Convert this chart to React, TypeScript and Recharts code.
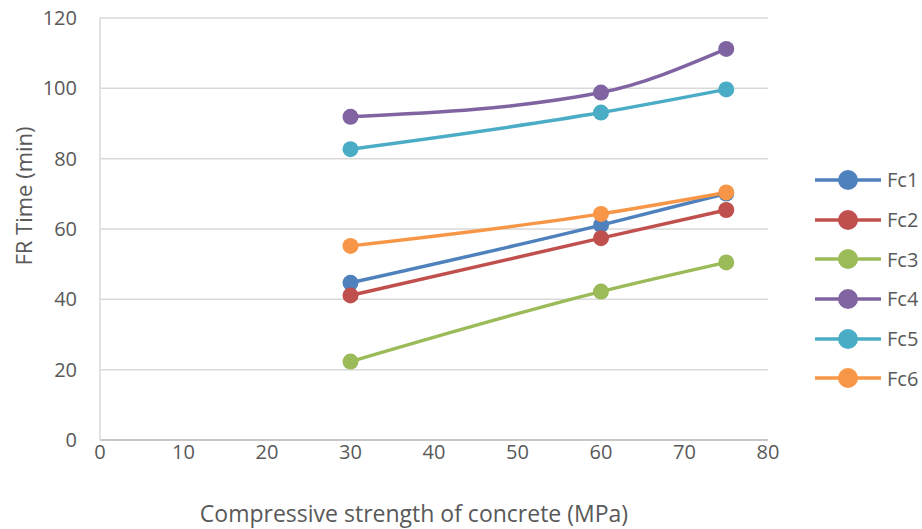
import React from 'react';
import { LineChart, Line, XAxis, YAxis, CartesianGrid } from 'recharts';

// compressive strength (MPa) at which each fire-resistance time was measured
const strengths = [30, 60, 75];

// fire-resistance time (min) per column group
const fc1 = [44.7, 61.1, 70.1];
const fc2 = [41.1, 57.4, 65.4];
const fc3 = [22.3, 42.2, 50.5];
const fc4 = [91.9, 98.8, 111.2];
const fc5 = [82.7, 93.1, 99.7];
const fc6 = [55.2, 64.3, 70.4];

const xTicks = [0, 10, 20, 30, 40, 50, 60, 70, 80];
const yTicks = [0, 20, 40, 60, 80, 100, 120];

const series = [
  { key: 'Fc1', values: fc1, color: '#4F81BD' },
  { key: 'Fc2', values: fc2, color: '#C0504D' },
  { key: 'Fc3', values: fc3, color: '#9BBB59' },
  { key: 'Fc4', values: fc4, color: '#8064A2' },
  { key: 'Fc5', values: fc5, color: '#4BACC6' },
  { key: 'Fc6', values: fc6, color: '#F79646' },
];

const chartData = strengths.map((s, i) => {
  const row: Record<string, number> = { strength: s };
  series.forEach((sr) => {
    row[sr.key] = sr.values[i];
  });
  return row;
});

const FONT = '"Open Sans", "Liberation Sans", sans-serif';
const TEXT = '#595959';

function SideLegend() {
  return (
    <div style={{ position: 'absolute', left: 812, top: 160, fontFamily: FONT }}>
      {series.map((s) => (
        <div key={s.key} style={{ display: 'flex', alignItems: 'center', height: 39.7 }}>
          <svg width={72} height={24}>
            <line x1={3} y1={12} x2={69} y2={12} stroke={s.color} strokeWidth={3.5} />
            <circle cx={36} cy={12} r={10} fill={s.color} />
          </svg>
          <span style={{ fontSize: 20, color: TEXT, marginLeft: 3 }}>{s.key}</span>
        </div>
      ))}
    </div>
  );
}

export default function App() {
  return (
    <div style={{ position: 'absolute', left: 0, top: 0, width: 922, height: 529, background: '#fff' }}>
      <LineChart
        width={922}
        height={529}
        data={chartData}
        margin={{ top: 18, right: 154, bottom: 0, left: 0 }}
      >
        <CartesianGrid vertical={false} stroke="#D9D9D9" strokeWidth={1.5} />
        <XAxis
          dataKey="strength"
          type="number"
          domain={[0, 80]}
          ticks={xTicks}
          height={89}
          axisLine={{ stroke: '#BFBFBF', strokeWidth: 1.5 }}
          tickLine={false}
          tickSize={0}
          tickMargin={5}
          tick={{ fill: TEXT, fontSize: 20, fontFamily: FONT }}
          label={{
            content: ({ viewBox }: any) => (
              <text
                x={414}
                y={viewBox.y + 82}
                textAnchor="middle"
                fill={TEXT}
                fontSize={23}
                fontFamily={FONT}
              >
                Compressive strength of concrete (MPa)
              </text>
            ),
          }}
        />
        <YAxis
          type="number"
          domain={[0, 120]}
          ticks={yTicks}
          width={100}
          axisLine={{ stroke: '#D9D9D9', strokeWidth: 1.5 }}
          tickLine={false}
          tickSize={0}
          tickMargin={23}
          tick={{ fill: TEXT, fontSize: 20, fontFamily: FONT }}
          label={{
            content: ({ viewBox }: any) => {
              const cx = viewBox.x + 32;
              const cy = 196;
              return (
                <text
                  x={cx}
                  y={cy}
                  transform={`rotate(-90, ${cx}, ${cy})`}
                  textAnchor="middle"
                  fill={TEXT}
                  fontSize={22}
                  fontFamily={FONT}
                >
                  FR Time (min)
                </text>
              );
            },
          }}
        />
        {series.map((s) => (
          <Line
            key={s.key}
            dataKey={s.key}
            type="monotone"
            stroke={s.color}
            strokeWidth={3.5}
            dot={{ r: 8, fill: s.color, stroke: s.color, strokeWidth: 0 }}
            activeDot={false}
            isAnimationActive={false}
          />
        ))}
      </LineChart>
      <SideLegend />
    </div>
  );
}
